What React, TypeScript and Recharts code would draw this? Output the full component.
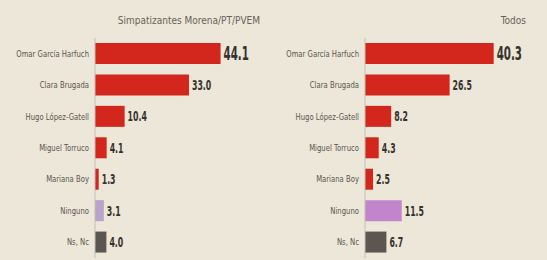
import React from "react";
import { BarChart, Bar, XAxis, YAxis, Cell, LabelList } from "recharts";

const candidates = [
  "Omar García Harfuch",
  "Clara Brugada",
  "Hugo López-Gatell",
  "Miguel Torruco",
  "Mariana Boy",
  "Ninguno",
  "Ns, Nc",
];
const simpatizantes = [44.1, 33.0, 10.4, 4.1, 1.3, 3.1, 4.0];
const todos = [40.3, 26.5, 8.2, 4.3, 2.5, 11.5, 6.7];
const leftTitle = "Simpatizantes Morena/PT/PVEM";
const rightTitle = "Todos";

const RED = "#d3261c";
const leftColors = [RED, RED, RED, RED, RED, "#b9a3c9", "#5b5651"];
const rightColors = [RED, RED, RED, RED, RED, "#c285cc", "#5b5651"];
const BG = "#ece7d8";
const COND = "'DejaVu Sans Condensed', 'Liberation Sans Narrow', sans-serif";

const buildData = (values: number[]) =>
  candidates.map((name, i) => ({ name, value: values[i] }));

const ValueLabel = (props: any) => {
  const { x, y, width, height, value, index } = props;
  const big = index === 0;
  return (
    <g transform={`translate(${x + width + 3},${y + height / 2}) scale(0.6,1)`}>
      <text
        x={0}
        y={0}
        dy={big ? 6.5 : 5}
        fill="#35312d"
        fontFamily={COND}
        fontWeight="bold"
        fontSize={big ? 19 : 14.5}
      >
        {Number(value).toFixed(1)}
      </text>
    </g>
  );
};

const NameTick = (props: any) => {
  const { x, y, payload } = props;
  return (
    <g transform={`translate(${x},${y}) scale(0.85,1)`}>
      <text
        x={0}
        y={0}
        dy={3}
        textAnchor="end"
        fill="#5a554e"
        fontFamily={COND}
        fontSize={9}
      >
        {payload.value}
      </text>
    </g>
  );
};

const Panel = ({
  values,
  colors,
  width,
  max,
}: {
  values: number[];
  colors: string[];
  width: number;
  max: number;
}) => (
  <BarChart
    width={width}
    height={260}
    data={buildData(values)}
    layout="vertical"
    margin={{ top: 38, right: 0, bottom: 2, left: 0 }}
    barCategoryGap={0}
  >
    <XAxis type="number" domain={[0, max]} hide />
    <YAxis
      type="category"
      dataKey="name"
      width={95}
      tickLine={false}
      axisLine={{ stroke: "#c4bfb4", strokeWidth: 1 }}
      tick={<NameTick />}
      tickMargin={0}
      interval={0}
    />
    <Bar dataKey="value" barSize={21} isAnimationActive={false}>
      {values.map((_, i) => (
        <Cell key={i} fill={colors[i]} />
      ))}
      <LabelList dataKey="value" content={<ValueLabel />} />
    </Bar>
  </BarChart>
);

const titleStyle: React.CSSProperties = {
  position: "absolute",
  top: 15,
  fontFamily: COND,
  fontSize: 10,
  color: "#67625a",
  whiteSpace: "nowrap",
};

export default function App() {
  return (
    <div
      style={{
        position: "absolute",
        left: 0,
        top: 0,
        width: 547,
        height: 260,
        background: BG,
        overflow: "hidden",
      }}
    >
      <div style={{ position: "absolute", left: 0, top: 0 }}>
        <Panel values={simpatizantes} colors={leftColors} width={273} max={62.5} />
      </div>
      <div style={{ position: "absolute", left: 270, top: 0 }}>
        <Panel values={todos} colors={rightColors} width={277} max={57} />
      </div>
      <div style={{ ...titleStyle, right: 547 - 260 }}>{leftTitle}</div>
      <div style={{ ...titleStyle, right: 547 - 526 }}>{rightTitle}</div>
    </div>
  );
}
